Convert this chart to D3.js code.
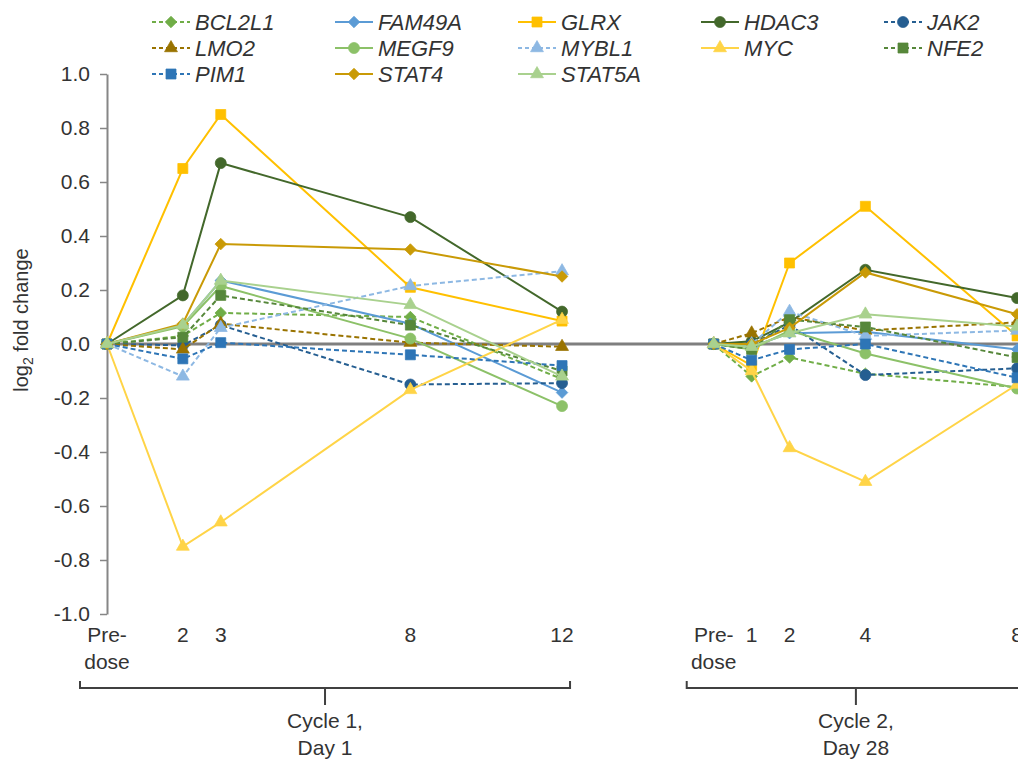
<!DOCTYPE html>
<html lang="en">
<head>
<meta charset="UTF-8">
<title>log2 fold change</title>
<style>
body {
  margin: 0;
  background: #fff;
  font-family: 'Liberation Sans', Arial, sans-serif;
}
text {
  fill: #333;
}
.legend text {
  font-size: 22px;
  font-style: italic;
}
.axis text {
  font-size: 21px;
}
</style>
</head>
<body>
<div id="chart"></div>
<script src="https://cdnjs.cloudflare.com/ajax/libs/d3/7.8.5/d3.min.js"></script>
<script>

var genes = ['BCL2L1', 'FAM49A', 'GLRX', 'HDAC3', 'JAK2', 'LMO2', 'MEGF9',
  'MYBL1', 'MYC', 'NFE2', 'PIM1', 'STAT4', 'STAT5A'];

// hours after dose
var cycle1Hours = [0, 2, 3, 8, 12];
var cycle2Hours = [0, 1, 2, 4, 8];
var cycle1Labels = ['Pre-|dose', '2', '3', '8', '12'];
var cycle2Labels = ['Pre-|dose', '1', '2', '4', '8'];
var cycleNames = ['Cycle 1,|Day 1', 'Cycle 2,|Day 28'];

// one row per gene, same order as genes
var cycle1Values = [
  [0, 0.03, 0.115, 0.10, -0.13],
  [0, 0.07, 0.235, 0.075, -0.18],
  [0, 0.65, 0.85, 0.21, 0.085],
  [0, 0.18, 0.67, 0.47, 0.12],
  [0, -0.005, 0.07, -0.15, -0.145],
  [0, -0.02, 0.075, 0.005, -0.01],
  [0, 0.065, 0.215, 0.02, -0.23],
  [0, -0.12, 0.06, 0.215, 0.27],
  [0, -0.75, -0.66, -0.17, 0.09],
  [0, 0.025, 0.18, 0.07, -0.10],
  [0, -0.055, 0.005, -0.04, -0.08],
  [0, 0.075, 0.37, 0.35, 0.25],
  [0, 0.07, 0.235, 0.145, -0.12]
];
var cycle2Values = [
  [0, -0.12, -0.05, -0.11, -0.16],
  [0, -0.01, 0.04, 0.045, -0.02],
  [0, -0.08, 0.30, 0.51, 0.03],
  [0, 0.01, 0.08, 0.275, 0.17],
  [0, 0.0, 0.07, -0.115, -0.09],
  [0, 0.04, 0.10, 0.05, 0.08],
  [0, -0.02, 0.05, -0.035, -0.165],
  [0, 0.0, 0.12, 0.03, 0.05],
  [0, -0.10, -0.385, -0.51, -0.15],
  [0, -0.02, 0.09, 0.063, -0.05],
  [0, -0.06, -0.02, 0.0, -0.125],
  [0, 0.0, 0.06, 0.265, 0.11],
  [0, -0.01, 0.04, 0.11, 0.065]
];
var yTicks = [1.0, 0.8, 0.6, 0.4, 0.2, 0.0, -0.2, -0.4, -0.6, -0.8, -1.0];

// styles
var colors = ['#70AD47', '#5B9BD5', '#FFC000', '#43682B', '#255E91', '#997300', '#8CC168',
  '#8DB8E3', '#FFD447', '#56873A', '#2E75B6', '#C99A06', '#A9D18E'];
var dashed = [true, false, false, false, true, true, false, true, false, true, true, false, false];
var markers = ['diamond', 'diamond', 'square', 'circle', 'circle', 'triangle', 'circle',
  'triangle', 'triangle', 'square', 'square', 'diamond', 'triangle'];

var width = 1018;
var height = 760;
var cycle2Offset = 16;

var svg = d3.select('#chart')
  .append('svg')
  .attr('width', width)
  .attr('height', height);

var x = d3.scaleLinear()
  .domain([0, 24])
  .range([107, 107 + 24 * 37.92]);

var y = d3.scaleLinear()
  .domain([-1, 1])
  .range([614, 74]);

function symbolPath(kind) {
  if (kind === 'circle') return d3.symbol().type(d3.symbolCircle).size(95)();
  if (kind === 'triangle') return d3.symbol().type(d3.symbolTriangle).size(72)();
  if (kind === 'square') return d3.symbol().type(d3.symbolSquare).size(100)();
  return d3.symbol().type(d3.symbolSquare).size(66)();
}

function drawMarker(g, kind, color, px, py) {
  g.append('path')
    .attr('d', symbolPath(kind))
    .attr('transform', 'translate(' + px + ',' + py + ')' + (kind === 'diamond' ? ' rotate(45)' : ''))
    .attr('fill', color)
    .attr('stroke', color)
    .attr('stroke-width', 0.75);
}

// zero line
svg.append('line')
  .attr('x1', x(0))
  .attr('x2', width + 10)
  .attr('y1', y(0))
  .attr('y2', y(0))
  .attr('stroke', '#7f7f7f')
  .attr('stroke-width', 3);

// y axis
var yAxis = svg.append('g')
  .attr('class', 'axis')
  .attr('transform', 'translate(' + x(0) + ',0)')
  .call(d3.axisLeft(y)
    .tickValues(yTicks)
    .tickSize(7)
    .tickSizeOuter(0)
    .tickPadding(10)
    .tickFormat(function (d) { return d.toFixed(1); }));

yAxis.select('.domain').attr('stroke', '#868686').attr('stroke-width', 2);
yAxis.selectAll('.tick line').attr('stroke', '#868686').attr('stroke-width', 1.5);
yAxis.selectAll('.tick text').attr('fill', '#333').attr('font-family', null);

// y axis title
var yTitle = svg.append('text')
  .attr('transform', 'translate(28,' + 320 + ') rotate(-90)')
  .attr('text-anchor', 'middle')
  .style('font-size', '20px');
yTitle.append('tspan').text('log');
yTitle.append('tspan').attr('dy', 5).style('font-size', '14px').text('2');
yTitle.append('tspan').attr('dy', -5).text(' fold change');

// series
var line = d3.line()
  .x(function (d) { return x(d[0]); })
  .y(function (d) { return y(d[1]); });

genes.forEach(function (gene, i) {
  var g = svg.append('g').attr('class', 'series');
  var pts1 = cycle1Hours.map(function (h, j) { return [h, cycle1Values[i][j]]; });
  var pts2 = cycle2Hours.map(function (h, j) { return [h + cycle2Offset, cycle2Values[i][j]]; });
  [pts1, pts2].forEach(function (pts) {
    g.append('path')
      .attr('d', line(pts))
      .attr('fill', 'none')
      .attr('stroke', colors[i])
      .attr('stroke-width', 2)
      .attr('stroke-dasharray', dashed[i] ? '5,3' : null);
    pts.forEach(function (p) {
      drawMarker(g, markers[i], colors[i], x(p[0]), y(p[1]));
    });
  });
});

// x labels
function multiline(sel, str, lineHeight) {
  str.split('|').forEach(function (s, k) {
    sel.append('tspan')
      .attr('x', sel.attr('x'))
      .attr('dy', k === 0 ? 0 : lineHeight)
      .text(s);
  });
}

var xLabels = svg.append('g').attr('class', 'axis');
[[cycle1Hours, cycle1Labels, 0], [cycle2Hours, cycle2Labels, cycle2Offset]].forEach(function (c) {
  c[0].forEach(function (h, j) {
    var t = xLabels.append('text')
      .attr('x', x(h + c[2]))
      .attr('y', 642)
      .attr('text-anchor', 'middle');
    multiline(t, c[1][j], 27);
  });
});

// cycle brackets
[[0, 12], [cycle2Offset, 24]].forEach(function (r, k) {
  var x1 = x(r[0]) - 27;
  var x2 = x(r[1]) + 8;
  var mid = (x1 + x2) / 2;
  var by = 688;
  svg.append('path')
    .attr('d', 'M' + x1 + ',' + (by - 7) + 'V' + by + 'H' + x2 + 'V' + (by - 7) +
      'M' + mid + ',' + by + 'V' + (by + 17))
    .attr('fill', 'none')
    .attr('stroke', '#404040')
    .attr('stroke-width', 2);
  var t = svg.append('text')
    .attr('class', 'axis')
    .attr('x', mid)
    .attr('y', 728)
    .attr('text-anchor', 'middle')
    .style('font-size', '21px');
  multiline(t, cycleNames[k], 27);
});

// legend
var legend = svg.append('g').attr('class', 'legend');
genes.forEach(function (gene, i) {
  var col = i % 5;
  var row = Math.floor(i / 5);
  var x0 = 152 + col * 183;
  var ly = 22 + row * 26;
  var g = legend.append('g');
  g.append('line')
    .attr('x1', x0)
    .attr('x2', x0 + 38)
    .attr('y1', ly)
    .attr('y2', ly)
    .attr('stroke', colors[i])
    .attr('stroke-width', 2)
    .attr('stroke-dasharray', dashed[i] ? '4,3' : null);
  drawMarker(g, markers[i], colors[i], x0 + 19, ly);
  g.append('text')
    .attr('x', x0 + 43)
    .attr('y', ly + 8)
    .text(gene);
});

</script>
</body>
</html>
